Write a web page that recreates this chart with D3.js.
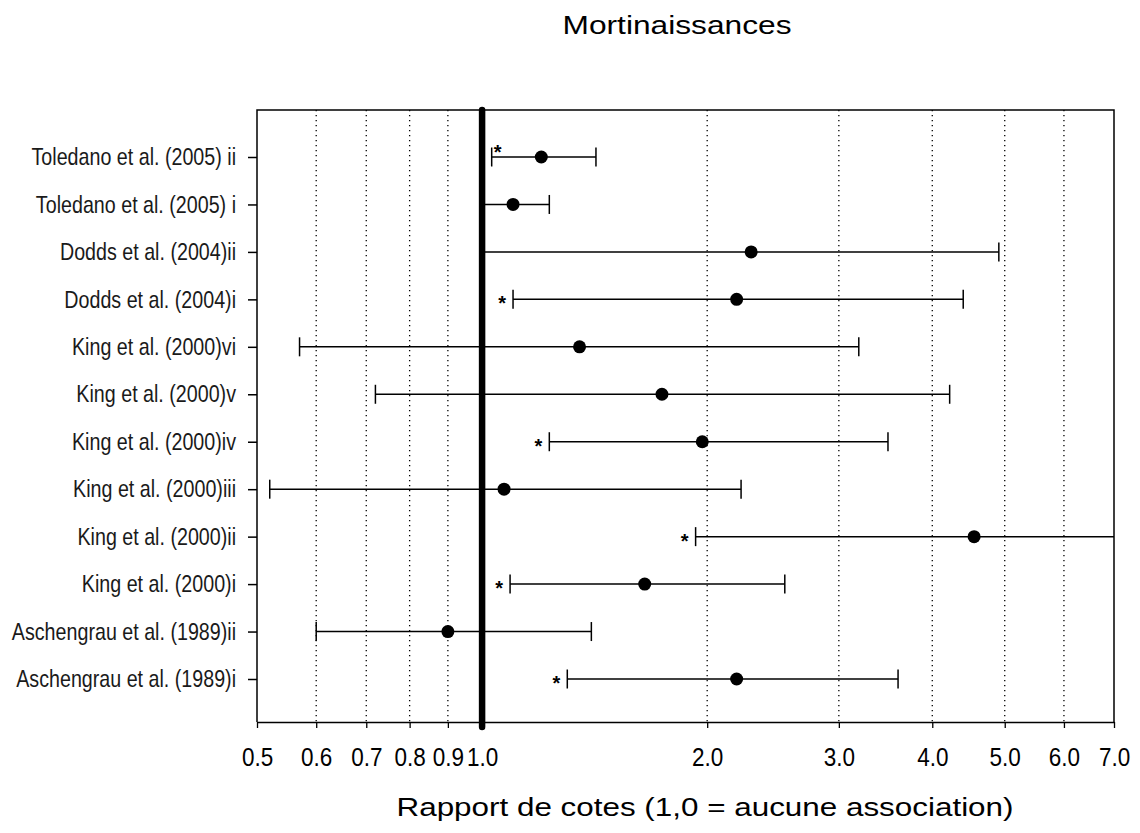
<!DOCTYPE html>
<html>
<head>
<meta charset="utf-8">
<script src="https://cdn.jsdelivr.net/npm/d3@7"></script>
<style>
  body { margin: 0; background: #fff; }
  svg { display: block; }
</style>
</head>
<body>
<div id="chart"></div>
<script>
// studies listed top to bottom as they appear on the chart
const studies = [
  "Toledano et al. (2005) ii", "Toledano et al. (2005) i",
  "Dodds et al. (2004)ii", "Dodds et al. (2004)i",
  "King et al. (2000)vi", "King et al. (2000)v", "King et al. (2000)iv",
  "King et al. (2000)iii", "King et al. (2000)ii", "King et al. (2000)i",
  "Aschengrau et al. (1989)ii", "Aschengrau et al. (1989)i"
];
const oddsRatio = [1.20, 1.10, 2.29, 2.19, 1.35, 1.74, 1.97, 1.07, 4.55, 1.65, 0.90, 2.19];
const ciLower   = [1.03, 1.00, 1.00, 1.10, 0.57, 0.72, 1.23, 0.52, 1.93, 1.09, 0.60, 1.30];
const ciUpper   = [1.42, 1.23, 4.91, 4.40, 3.19, 4.22, 3.49, 2.22, 7.40, 2.54, 1.40, 3.60];
const significant = [true, false, false, true, false, false, true, false, true, true, false, true];
const xTicks = [0.5, 0.6, 0.7, 0.8, 0.9, 1.0, 2.0, 3.0, 4.0, 5.0, 6.0, 7.0];
const gridValues = [0.6, 0.7, 0.8, 0.9, 2.0, 3.0, 4.0, 5.0, 6.0];

const width = 1140, height = 833;
const plotLeft = 257, plotRight = 1114, plotTop = 110, plotBottom = 722;
const n = studies.length;
const narrow = 0.82;   // no condensed font installed, squeeze the row labels instead

const rows = studies.map((name, i) => ({
  name: name,
  row: n - i,
  or: oddsRatio[i],
  lo: ciLower[i],
  hi: ciUpper[i],
  star: significant[i]
}));

const x = d3.scaleLog().domain([0.5, 7.0]).range([plotLeft, plotRight]);
const y = d3.scaleLinear().domain([1, n]).range([679, 157]);

const svg = d3.select("#chart").append("svg")
  .attr("width", width)
  .attr("height", height);

svg.append("rect").attr("width", width).attr("height", height).attr("fill", "#fff");

svg.append("defs").append("clipPath").attr("id", "plot-clip")
  .append("rect")
  .attr("x", plotLeft).attr("y", plotTop - 20)
  .attr("width", plotRight - plotLeft).attr("height", plotBottom - plotTop + 40);

// dotted grid
svg.append("g").selectAll("line")
  .data(gridValues)
  .enter()
  .append("line")
  .attr("x1", d => x(d)).attr("x2", d => x(d))
  .attr("y1", plotTop).attr("y2", plotBottom)
  .attr("stroke", "#000")
  .attr("stroke-width", 1.3)
  .attr("stroke-dasharray", "1.3 3.7");

// axes
const xAxis = svg.append("g")
  .attr("transform", "translate(0," + plotBottom + ")")
  .call(d3.axisBottom(x).tickValues(xTicks).tickFormat(d3.format(".1f"))
    .tickSizeInner(6).tickSizeOuter(0).tickPadding(20));
xAxis.select(".domain").attr("stroke-width", 1.5);
xAxis.selectAll(".tick line").attr("stroke-width", 1.3);
xAxis.selectAll("text")
  .attr("font-family", "'Liberation Sans', Arial, sans-serif")
  .attr("font-size", 25)
  .attr("x", 0)
  .attr("transform", "scale(0.9,1)")
  .attr("fill", "#000");

const yAxis = svg.append("g")
  .attr("transform", "translate(" + plotLeft + ",0)")
  .call(d3.axisLeft(y).tickValues(rows.map(d => d.row))
    .tickFormat(r => rows.find(d => d.row === r).name)
    .tickSizeInner(9).tickSizeOuter(0).tickPadding(11));
yAxis.select(".domain").remove();
yAxis.selectAll(".tick line").attr("stroke-width", 1.5);
yAxis.selectAll("text")
  .attr("font-family", "'Liberation Sans', Arial, sans-serif")
  .attr("font-size", 24)
  .attr("x", -21 / narrow)
  .attr("transform", "scale(" + narrow + ",1)")
  .attr("fill", "#1a1a1a");

// frame
svg.append("path")
  .attr("d", "M" + plotLeft + "," + plotBottom + "V" + plotTop + "H" + plotRight + "V" + plotBottom)
  .attr("fill", "none")
  .attr("stroke", "#000")
  .attr("stroke-width", 1.5);

// confidence intervals
const bars = svg.append("g").attr("clip-path", "url(#plot-clip)");
bars.selectAll("line.ci")
  .data(rows)
  .enter()
  .append("line")
  .attr("class", "ci")
  .attr("x1", d => x(d.lo)).attr("x2", d => x(d.hi))
  .attr("y1", d => y(d.row)).attr("y2", d => y(d.row))
  .attr("stroke", "#000")
  .attr("stroke-width", 1.5);

const caps = rows.flatMap(d => [{ v: d.lo, row: d.row }, { v: d.hi, row: d.row }]);
bars.selectAll("line.cap")
  .data(caps)
  .enter()
  .append("line")
  .attr("class", "cap")
  .attr("x1", d => x(d.v)).attr("x2", d => x(d.v))
  .attr("y1", d => y(d.row) - 9.5).attr("y2", d => y(d.row) + 9.5)
  .attr("stroke", "#000")
  .attr("stroke-width", 1.5);

// no-association reference line
svg.append("line")
  .attr("x1", x(1)).attr("x2", x(1))
  .attr("y1", plotTop).attr("y2", plotBottom + 5)
  .attr("stroke", "#000")
  .attr("stroke-width", 6.5)
  .attr("stroke-linecap", "round");

// point estimates
svg.append("g").selectAll("circle")
  .data(rows)
  .enter()
  .append("circle")
  .attr("cx", d => x(d.or))
  .attr("cy", d => y(d.row))
  .attr("r", 6.5)
  .attr("fill", "#000");

// significance stars
svg.append("g").selectAll("text")
  .data(rows.filter(d => d.star))
  .enter()
  .append("text")
  .attr("x", d => x(d.lo) + (d.row === n ? 6 : -11))
  .attr("y", d => y(d.row) + (d.row === n ? -9 : 0) + 11)
  .attr("text-anchor", "middle")
  .attr("font-family", "'Liberation Sans', Arial, sans-serif")
  .attr("font-weight", "bold")
  .attr("font-size", 20)
  .attr("fill", "#000")
  .text("*");

// titles
svg.append("text")
  .attr("x", 677).attr("y", 34)
  .attr("text-anchor", "middle")
  .attr("font-family", "'Liberation Sans', Arial, sans-serif")
  .attr("font-size", 26)
  .attr("textLength", 229)
  .attr("lengthAdjust", "spacingAndGlyphs")
  .text("Mortinaissances");

svg.append("text")
  .attr("x", 705).attr("y", 816)
  .attr("text-anchor", "middle")
  .attr("font-family", "'Liberation Sans', Arial, sans-serif")
  .attr("font-size", 25)
  .attr("textLength", 617)
  .attr("lengthAdjust", "spacingAndGlyphs")
  .text("Rapport de cotes (1,0 = aucune association)");
</script>
</body>
</html>
